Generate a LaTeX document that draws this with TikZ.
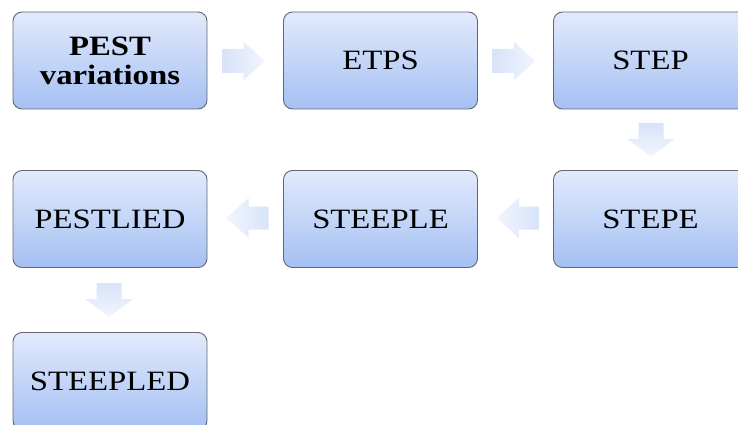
\documentclass[tikz,border=0pt]{standalone}
\usepackage{fontspec}
\setmainfont{Liberation Serif}
\newfontfamily\boxfont[FakeStretch=1.17]{Liberation Serif}
\usetikzlibrary{calc}
\definecolor{boxtop}{HTML}{E2EAFC}
\definecolor{boxbot}{HTML}{A5C0F3}
\definecolor{boxline}{HTML}{66666C}
\definecolor{arrdark}{HTML}{D8E3F9}
\definecolor{arrlight}{HTML}{F1F5FE}
\tikzset{
  stagebox/.style={draw=boxline, line width=0.9pt, rounded corners=9pt,
    top color=boxtop, bottom color=boxbot, minimum width=194pt,
    minimum height=97pt, inner sep=0pt, align=center,
    font=\boxfont\fontsize{28}{30}\selectfont},
  rarrow/.style={draw=none, left color=arrdark, right color=arrlight},
  larrow/.style={draw=none, left color=arrlight, right color=arrdark},
  darrow/.style={draw=none, top color=arrdark, bottom color=arrlight}
}
\begin{document}
\begin{tikzpicture}[x=1pt,y=1pt]
\useasboundingbox (0,0) rectangle (738,-425);
\begin{scope}
\clip (0,0) rectangle (738,-425);
\node[stagebox] (pest) at (110,-60.5) {\textbf{PEST}\\[-1pt]\textbf{variations}};
\node[stagebox] (etps) at (380.5,-60.5) {ETPS};
\node[stagebox] (step) at (650.5,-60.5) {STEP};
\node[stagebox] (stepe) at (650.5,-219) {STEPE};
\node[stagebox] (steeple) at (380.5,-219) {STEEPLE};
\node[stagebox] (pestlied) at (110,-219) {PESTLIED};
\node[stagebox] (steepled) at (110,-381) {STEEPLED};

% block arrows between the stages
\coordinate (a1) at ($(pest.east)!0.48!(etps.west)+(0,-0.5)$);
\coordinate (a2) at ($(etps.east)!0.48!(step.west)+(0,-0.5)$);
\coordinate (a3) at ($(step.south)!0.5!(stepe.north)+(0.5,0)$);
\coordinate (a4) at ($(stepe.west)!0.47!(steeple.east)+(0,1)$);
\coordinate (a5) at ($(steeple.west)!0.47!(pestlied.east)+(0,1)$);
\coordinate (a6) at ($(pestlied.south)!0.5!(steepled.north)+(-1,0)$);

\foreach \a in {a1,a2}{
  \path[rarrow, shift={(\a)}] (-21.5,-12) -- (0,-12) -- (0,-19) -- (21.5,0)
     -- (0,19) -- (0,12) -- (-21.5,12) -- cycle;
}
\foreach \a in {a4,a5}{
  \path[larrow, shift={(\a)}] (21,-11.5) -- (1,-11.5) -- (1,-20) -- (-21,0)
     -- (1,20) -- (1,11.5) -- (21,11.5) -- cycle;
}
\foreach \a in {a3,a6}{
  \path[darrow, shift={(\a)}] (-12.5,17) -- (-12.5,1) -- (-24,1) -- (0,-17)
     -- (24,1) -- (12.5,1) -- (12.5,17) -- cycle;
}
\end{scope}
\end{tikzpicture}
\end{document}
